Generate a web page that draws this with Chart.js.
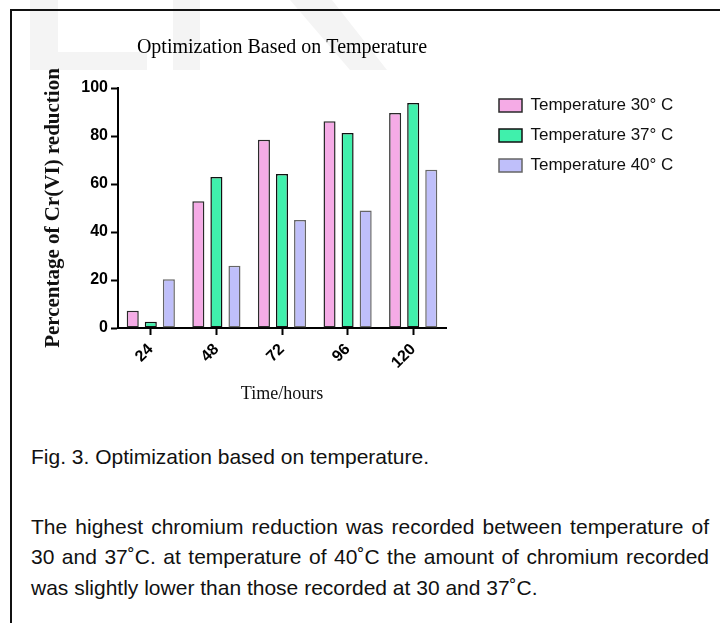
<!DOCTYPE html>
<html>
<head>
<meta charset="utf-8">
<script src="https://cdn.jsdelivr.net/npm/chart.js@4/dist/chart.umd.min.js"></script>
<style>
  html, body { margin: 0; padding: 0; background: #fff; }
  body { width: 720px; height: 623px; position: relative; overflow: hidden; }
  .wm { position: absolute; background: #f4f4f4; }
  #frameTop { position: absolute; left: 10px; top: 9px; width: 710px; height: 2px; background: #111; }
  #frameLeft { position: absolute; left: 10px; top: 9px; width: 2px; height: 614px; background: #111; }
  #chartBox { position: absolute; left: 0; top: 0; width: 720px; height: 420px; }
  .txt { position: absolute; left: 31px; width: 678px; font-family: 'Liberation Sans', Arial, sans-serif;
         font-size: 21px; line-height: 30.5px; color: #111; }
  #para { text-align: justify; }
</style>
</head>
<body>
<div class="wm" style="left:30px;top:0;width:28px;height:70px"></div>
<div class="wm" style="left:30px;top:52px;width:117px;height:18px"></div>
<div class="wm" style="left:173px;top:0;width:27px;height:70px"></div>
<div class="wm" style="left:0;top:0;width:720px;height:70px;clip-path:polygon(290px 0,332px 0,387px 70px,350px 70px)"></div>
<div id="frameTop"></div>
<div id="frameLeft"></div>
<div id="chartBox"><canvas id="c" width="720" height="420"></canvas></div>
<div class="txt" style="top:441.5px">Fig. 3. Optimization based on temperature.</div>
<div class="txt" id="para" style="top:511.5px">The highest chromium reduction was recorded between temperature of 30 and 37˚C. at temperature of 40˚C the amount of chromium recorded was slightly lower than those recorded at 30 and 37˚C.</div>
<script>
const categories = ['24', '48', '72', '96', '120'];
const seriesLabels = ['Temperature 30° C', 'Temperature 37° C', 'Temperature 40° C'];
const temp30 = [7.2, 52.8, 78.4, 86.1, 89.6];
const temp37 = [2.6, 62.9, 64.2, 81.3, 93.8];
const temp40 = [20.3, 25.9, 45.0, 49.0, 65.9];
const chartTitle = 'Optimization Based on Temperature';
const xTitle = 'Time/hours';
const yTitle = 'Percentage of Cr(VI) reduction';

const SANS = "'Liberation Sans', Arial, sans-serif";
const SERIF = "'Liberation Serif', 'Times New Roman', serif";

const legendTweak = {
  id: 'legendTweak',
  beforeLayout(chart) {
    const lg = chart.legend;
    if (lg && !lg.__patched) {
      const f = lg.fit;
      lg.fit = function () { f.call(this); this.width = 274; };
      lg.__patched = true;
    }
  },
  afterLayout(chart) {
    const lg = chart.legend;
    if (!lg) return;
    const pad = 13;
    const h = lg.bottom - lg.top;
    lg.left = 499 - pad;
    lg.right = lg.left + lg.width;
    lg.top = 97 - pad;
    lg.bottom = lg.top + h;
  }
};

new Chart(document.getElementById('c'), {
  type: 'bar',
  data: {
    labels: categories,
    datasets: [
      { label: seriesLabels[0], data: temp30, backgroundColor: '#f5abe6', borderColor: '#2a2a2a', borderWidth: 1.5, borderSkipped: false },
      { label: seriesLabels[1], data: temp37, backgroundColor: '#40f0ac', borderColor: '#111', borderWidth: 1.5, borderSkipped: false },
      { label: seriesLabels[2], data: temp40, backgroundColor: '#bfbffa', borderColor: '#666', borderWidth: 1.5, borderSkipped: false }
    ]
  },
  options: {
    responsive: false,
    animation: false,
    events: [],
    layout: { padding: { left: 43.5, right: 0, top: 0, bottom: 17 } },
    datasets: { bar: { categoryPercentage: 0.826, barPercentage: 0.667 } },
    plugins: {
      tooltip: { enabled: false },
      title: {
        display: true, text: chartTitle, fullSize: false, color: '#000',
        font: { family: SERIF, size: 20, weight: 'normal', lineHeight: 1.2 },
        padding: { top: 36, bottom: 28 }
      },
      legend: {
        position: 'right', align: 'start',
        labels: {
          boxWidth: 23, boxHeight: 13, padding: 13, color: '#111',
          font: { family: SANS, size: 17 }
        }
      }
    },
    scales: {
      x: {
        afterFit(s) { s.height = 75; },
        grid: { display: true, drawOnChartArea: false, offset: false, tickLength: 7, tickWidth: 2, tickColor: '#000' },
        border: { display: true, color: '#000', width: 2 },
        ticks: { autoSkip: false, minRotation: 45, maxRotation: 45, padding: 5, color: '#000',
                 font: { family: SANS, size: 16, weight: 'bold' } },
        title: { display: true, text: xTitle, color: '#111', padding: 0,
                 font: { family: SERIF, size: 18, weight: 'normal', lineHeight: 1 } }
      },
      y: {
        min: 0, max: 100,
        afterFit(s) { s.width = 74.5; },
        grid: { display: true, drawOnChartArea: false, tickLength: 7, tickWidth: 2, tickColor: '#000' },
        border: { display: true, color: '#000', width: 2 },
        ticks: { stepSize: 20, padding: 3, color: '#000',
                 font: { family: SANS, size: 16, weight: 'bold' } },
        title: { display: true, text: yTitle, color: '#111', padding: 0,
                 font: { family: SERIF, size: 21, weight: 'bold', lineHeight: 1 } }
      }
    }
  },
  plugins: [legendTweak]
});
</script>
</body>
</html>
